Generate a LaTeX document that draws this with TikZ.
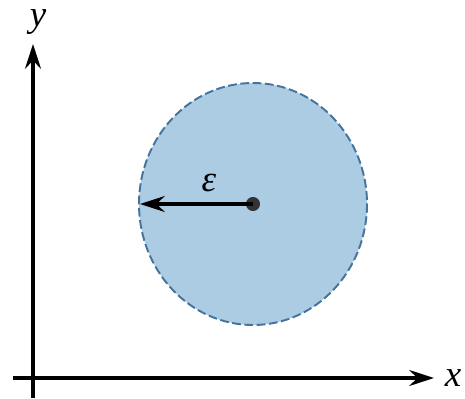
\documentclass[tikz,border=0pt]{standalone}
\usepackage{fontspec}
\setmainfont{Liberation Serif}
\usetikzlibrary{arrows.meta,calc}
\definecolor{DiskClr}{rgb}{0.67,0.80,0.89}
\definecolor{RimClr}{rgb}{0.27,0.45,0.62}

\begin{document}
\begin{tikzpicture}[x=0.02cm,y=-0.02cm,
  axis/.style={line width=2.2pt,-{Stealth[length=14pt,width=9pt]}},
  lbl/.style={font=\fontsize{21}{24}\selectfont\itshape}]
\useasboundingbox (0,0) rectangle (465,398);

\coordinate (O) at (33,378);
\coordinate (XS) at (13,378);
\coordinate (XE) at (434,378);
\coordinate (YS) at (33,398);
\coordinate (YE) at (33,44);
\coordinate (C) at (253,204);
\coordinate (E) at (140,204);

\fill[DiskClr] (C) ellipse [x radius=114,y radius=121];
\draw[RimClr,dashed,line width=1.1pt,dash pattern=on 5pt off 2pt] (C) ellipse [x radius=114,y radius=121];

\draw[axis] (XS) -- (XE);
\draw[axis] (YS) -- (YE);

\node[circle,fill=black!80,inner sep=0pt,minimum size=8pt] (c) at (C) {};
\draw[line width=1.8pt,-{Stealth[length=14pt,width=9pt]}] (c.center) -- (E);

\node[lbl] (eps) at (209,183) {ε};
\node[lbl] (ylab) at (38,22) {y};
\node[lbl] (xlab) at (453,378) {x};

\end{tikzpicture}
\end{document}
